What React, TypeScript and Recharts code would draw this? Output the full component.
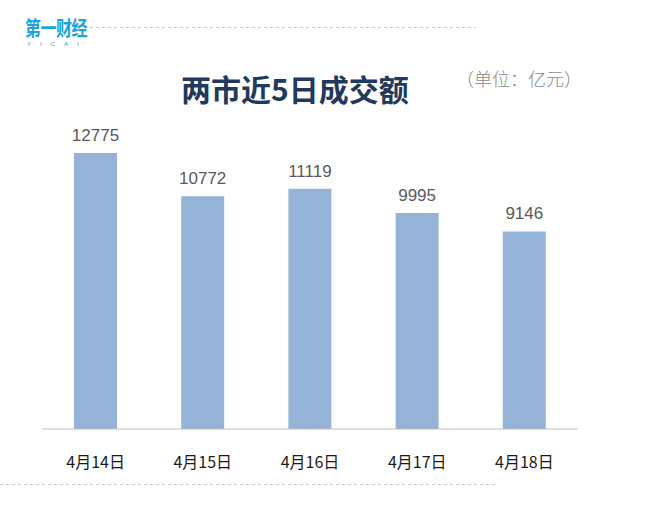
import React from "react";
import { BarChart, Bar, XAxis, YAxis, LabelList } from "recharts";

const categories = ["4月14日", "4月15日", "4月16日", "4月17日", "4月18日"];
const turnover = [12775, 10772, 11119, 9995, 9146];
const titleText = "两市近5日成交额";
const unitText = "（单位：亿元）";

const data = categories.map((c, i) => ({ date: c, value: turnover[i] }));

export default function App() {
  return (
    <div style={{ position: "absolute", left: 0, top: 0, width: 659, height: 515, background: "#fff", overflow: "hidden" }}>
      {/* logo */}
      <div style={{ position: "absolute", left: 25, top: 16, width: 70, fontFamily: "'Noto Sans CJK SC', sans-serif", color: "#1aa3dd", lineHeight: 1, whiteSpace: "nowrap" }}>
        <div style={{ fontSize: 16, fontWeight: 700, letterSpacing: -0.5, transform: "scale(1, 1.3)", transformOrigin: "0 0" }}>第一财经</div>
        <div style={{ fontSize: 6, letterSpacing: 9, marginTop: 9, marginLeft: 2, fontFamily: "'Liberation Sans', sans-serif" }}>YICAI</div>
      </div>
      <svg style={{ position: "absolute", left: 0, top: 0 }} width={659} height={515}>
        <line x1={90} y1={27.5} x2={476} y2={27.5} stroke="#c8c8c8" strokeDasharray="3 3" />
        <line x1={0} y1={484.5} x2={496} y2={484.5} stroke="#c8c8c8" strokeDasharray="3 3" />
      </svg>
      <div style={{ position: "absolute", left: 181, top: 70, fontFamily: "'Noto Sans CJK SC', sans-serif", fontWeight: 700, fontSize: 30, color: "#1f3a5c", lineHeight: "36px", whiteSpace: "nowrap" }}>
        {titleText}
      </div>
      <div style={{ position: "absolute", left: 456, top: 66, fontFamily: "'Noto Sans CJK SC', sans-serif", fontSize: 18, color: "#8a8a8a", lineHeight: "24px", fontWeight: 300, whiteSpace: "nowrap" }}>
        {unitText}
      </div>
      <div style={{ position: "absolute", left: 0, top: 0 }}>
        <BarChart width={659} height={515} data={data} margin={{ top: 126.5, right: 81, bottom: 56, left: 42 }}>
          <YAxis hide domain={[0, 14000]} />
          <XAxis
            dataKey="date"
            axisLine={{ stroke: "#bfbfbf" }}
            tickLine={false}
            height={30}
            tick={{ fill: "#1a1a1a", fontSize: 16, fontFamily: "'Noto Sans CJK SC', sans-serif" }}
            tickMargin={22}
            interval={0}
          />
          <Bar dataKey="value" fill="#95b3d7" barSize={43} isAnimationActive={false}>
            <LabelList dataKey="value" position="top" offset={12} fill="#595959" fontSize={17} fontFamily="'Liberation Sans', Arial, sans-serif" />
          </Bar>
        </BarChart>
      </div>
    </div>
  );
}
